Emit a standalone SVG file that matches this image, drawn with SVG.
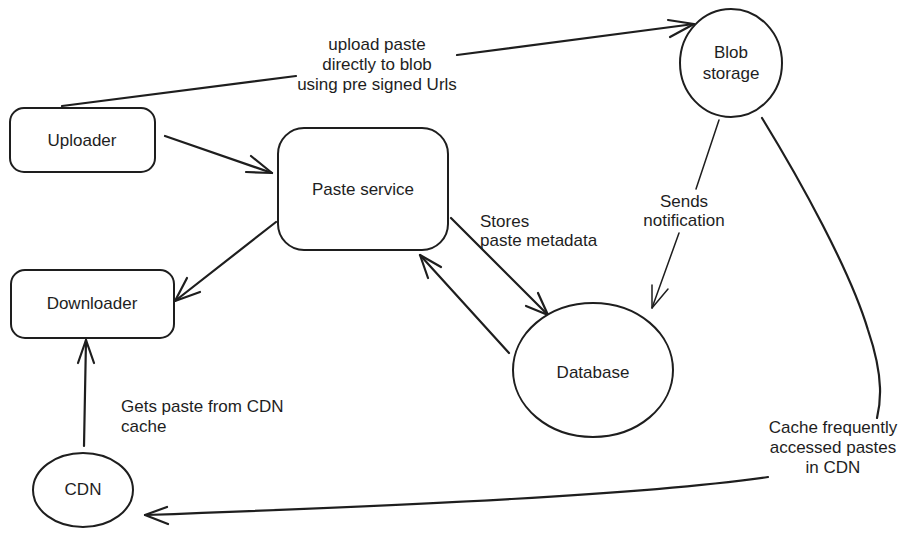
<svg xmlns="http://www.w3.org/2000/svg" width="908" height="536" viewBox="0 0 908 536">
<style>
.s{fill:#ffffff;stroke:#1e1e1e;stroke-width:2;}
.l{fill:none;stroke:#1e1e1e;stroke-width:2.2;stroke-linecap:round;stroke-linejoin:round;}
.t{fill:none;stroke:#1e1e1e;stroke-width:1.5;stroke-linecap:round;stroke-linejoin:round;}
text{font-family:"Liberation Sans",Arial,sans-serif;font-size:17px;fill:#1e1e1e;}
.c{text-anchor:middle;}
</style>
<rect width="908" height="536" fill="#ffffff"/>
<g id="connectors">
  <g id="upload-to-blob">
    <path class="l" d="M62 106 L296 76"/>
    <path class="l" d="M457 55 L694 24"/>
    <path class="l" d="M668 20 L694 24 L670 37"/>
    <text class="c" x="377" y="50">upload paste</text>
    <text class="c" x="377" y="70">directly to blob</text>
    <text class="c" x="377" y="90">using pre signed Urls</text>
  </g>
  <g id="uploader-to-paste">
    <path class="l" d="M165 136 L272 173"/>
    <path class="l" d="M251 156 L272 173 L246 172"/>
  </g>
  <g id="paste-to-downloader">
    <path class="l" d="M276 222 L175 301"/>
    <path class="l" d="M187 278 L175 301 L200 292"/>
  </g>
  <g id="paste-to-db">
    <path class="l" d="M451 218 L548 315"/>
    <path class="l" d="M538 293 L548 315 L526 306"/>
    <text x="480" y="227">Stores</text>
    <text x="480" y="246">paste metadata</text>
  </g>
  <g id="db-to-paste">
    <path class="l" d="M509 353 L420 255"/>
    <path class="l" d="M428 278 L420 255 L441 267"/>
  </g>
  <g id="blob-to-db">
    <path class="t" d="M719 120 L696 189"/>
    <path class="t" d="M679 233 L652 308"/>
    <path class="t" d="M652 285 L652 308 L668 289"/>
    <text class="c" x="684" y="207">Sends</text>
    <text class="c" x="684" y="226">notification</text>
  </g>
  <g id="blob-to-cdn">
    <path class="l" d="M762 118 C800 180 850 270 868 330 C885 380 880 405 877 418"/>
    <path class="l" d="M768 477 C640 495 420 505 145 515"/>
    <path class="l" d="M167 507 L145 515 L168 524"/>
    <text class="c" x="833" y="433">Cache frequently</text>
    <text class="c" x="833" y="453">accessed pastes</text>
    <text class="c" x="833" y="473">in CDN</text>
  </g>
  <g id="cdn-to-downloader">
    <path class="l" d="M84 446 L86 340"/>
    <path class="l" d="M78 363 L86 340 L94 363"/>
    <text x="121" y="412">Gets paste from CDN</text>
    <text x="121" y="432">cache</text>
  </g>
</g>
<g id="uploader">
  <rect class="s" x="10" y="108" width="145" height="64" rx="14"/>
  <text class="c" x="82" y="146">Uploader</text>
</g>
<g id="paste-service">
  <rect class="s" x="278" y="128" width="170" height="122" rx="26"/>
  <text class="c" x="363" y="195">Paste service</text>
</g>
<g id="downloader">
  <rect class="s" x="11" y="270" width="163" height="68" rx="14"/>
  <text class="c" x="92" y="309">Downloader</text>
</g>
<g id="cdn">
  <ellipse class="s" cx="83" cy="490" rx="50" ry="37"/>
  <text class="c" x="83" y="495">CDN</text>
</g>
<g id="blob-storage">
  <ellipse class="s" cx="731" cy="63" rx="51" ry="54"/>
  <text class="c" x="731" y="58">Blob</text>
  <text class="c" x="731" y="79">storage</text>
</g>
<g id="database">
  <ellipse class="s" cx="593" cy="370" rx="80" ry="67"/>
  <text class="c" x="593" y="378">Database</text>
</g>
</svg>
